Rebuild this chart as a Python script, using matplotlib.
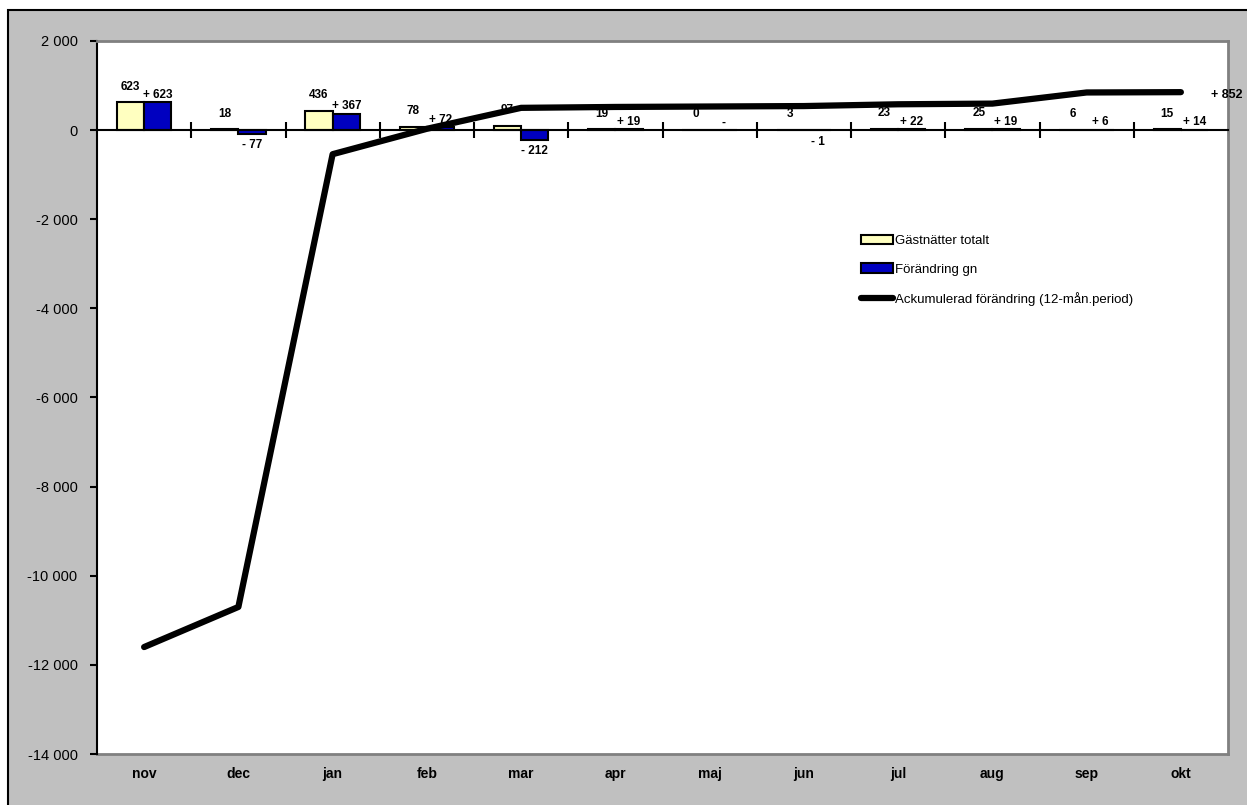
import matplotlib.pyplot as plt
from matplotlib.patches import Rectangle
from matplotlib.ticker import FuncFormatter
import numpy as np

plt.rcParams['font.family'] = ['Liberation Sans', 'DejaVu Sans']

months = ['nov', 'dec', 'jan', 'feb', 'mar', 'apr', 'maj', 'jun', 'jul', 'aug', 'sep', 'okt']
gastnatter = [623, 18, 436, 78, 97, 19, 0, 3, 23, 25, 6, 15]
forandring = [623, -77, 367, 72, -212, 19, 0, -1, 22, 19, 6, 14]
ackumulerad = [-11600, -10700, -540, 30, 500, 520, 530, 540, 580, 595, 845, 852]
end_label = '+ 852'

yellow = '#FFFFC0'
blue = '#0000C0'


def thousands(v, pos):
    if v == 0:
        return '0'
    return f'{int(v):,}'.replace(',', ' ')


def blue_label(v):
    if v > 0:
        return f'+ {v}'
    if v < 0:
        return f'- {abs(v)}'
    return '-'


fig = plt.figure(figsize=(12.47, 8.05), dpi=100, facecolor='white')
fig.patches.append(Rectangle((8 / 1247, -0.1), 2, (805 - 10) / 805 + 0.1,
                             transform=fig.transFigure, facecolor='#C0C0C0',
                             edgecolor='black', linewidth=1.5, zorder=-1))

ax = fig.add_axes([97 / 1247, 51 / 805, (1228 - 97) / 1247, (754 - 41) / 805])
ax.set_facecolor('white')

x = np.arange(len(months))
w = 0.29
b1 = ax.bar(x - w / 2, gastnatter, w, color=yellow, edgecolor='black', linewidth=1.5,
            label='Gästnätter totalt', zorder=2)
b2 = ax.bar(x + w / 2, forandring, w, color=blue, edgecolor='black', linewidth=1.5,
            label='Förändring gn', zorder=2)
ln, = ax.plot(x, ackumulerad, color='black', linewidth=4.5, solid_capstyle='round',
              label='Ackumulerad förändring (12-mån.period)', zorder=4)

for i in range(len(months)):
    ax.annotate(str(gastnatter[i]), (x[i] - w / 2, max(gastnatter[i], 0)),
                xytext=(0, 7), textcoords='offset points', ha='center', va='bottom',
                fontsize=8.5, fontweight='bold', zorder=3)
    v = forandring[i]
    if v >= 0:
        ax.annotate(blue_label(v), (x[i] + w / 2, v), xytext=(0, 1),
                    textcoords='offset points', ha='center', va='bottom',
                    fontsize=8.5, fontweight='bold', zorder=3)
    else:
        ax.annotate(blue_label(v), (x[i] + w / 2, v), xytext=(0, -4),
                    textcoords='offset points', ha='center', va='top',
                    fontsize=8.5, fontweight='bold', zorder=3)

ax.annotate(end_label, (x[-1], ackumulerad[-1]), xytext=(22, -2),
            textcoords='offset points', ha='left', va='center',
            fontsize=9, fontweight='bold', annotation_clip=False)

ax.set_xlim(-0.5, len(months) - 0.5)
ax.set_ylim(-14000, 2000)
ax.set_yticks(np.arange(-14000, 2001, 2000))
ax.yaxis.set_major_formatter(FuncFormatter(thousands))
ax.tick_params(axis='y', direction='out', length=5, width=1.5, labelsize=10.5, pad=9)

# zero axis with category boundary ticks
ax.spines['bottom'].set_position(('data', 0))
ax.spines['bottom'].set_linewidth(1.5)
ax.set_xticks(x)
ax.set_xticks(x[:-1] + 0.5, minor=True)
ax.tick_params(axis='x', which='major', length=0, labelbottom=False)
ax.tick_params(axis='x', which='minor', direction='inout', length=11, width=1.5)

sec = ax.secondary_xaxis('bottom')
sec.set_xticks(x)
sec.set_xticklabels(months, fontweight='bold', fontsize=10)
sec.tick_params(length=0, pad=9)
sec.spines['bottom'].set_color('#808080')
sec.spines['bottom'].set_linewidth(2)

ax.spines['left'].set_linewidth(1.5)
for s in ['top', 'right']:
    ax.spines[s].set_color('#808080')
    ax.spines[s].set_linewidth(2)

ax.legend(handles=[b1, b2, ln], loc='upper left', bbox_to_anchor=(0.665, 0.745),
          frameon=False, fontsize=9.5, labelspacing=1.25, handlelength=2.4,
          handletextpad=0.2)

fig.savefig('out.png', dpi=100, facecolor=fig.get_facecolor())
